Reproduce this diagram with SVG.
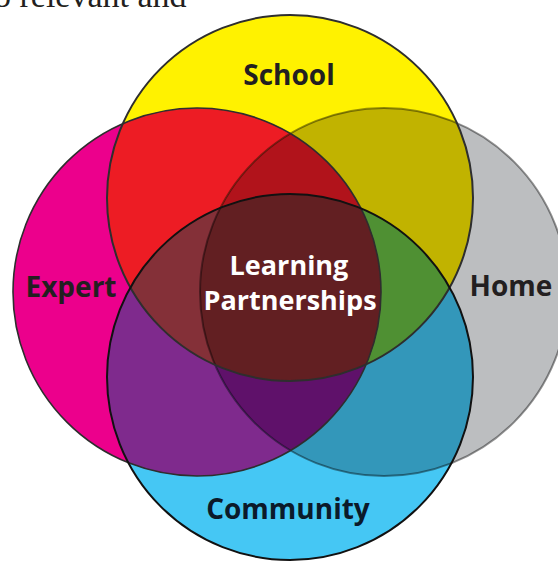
<svg xmlns="http://www.w3.org/2000/svg" width="558" height="562" viewBox="0 0 558 562">
  <style>
    .lbl { font-family: "Open Sans", "Liberation Sans", sans-serif; font-weight: bold; font-size: 28px; text-anchor: middle; }
    .dark { fill: #231F20; }
    .white { fill: #FFFFFF; font-size: 27px; }
    .page { font-family: "Liberation Serif", serif; font-size: 34px; fill: #231F20; }
  </style>
  <defs>
    <circle id="cirS" cx="290" cy="198" r="183"/>
    <circle id="cirE" cx="197" cy="292" r="184"/>
    <circle id="cirH" cx="384" cy="292" r="184"/>
    <circle id="cirC" cx="290" cy="377" r="183"/>
    <clipPath id="clipS"><use href="#cirS"/></clipPath>
    <clipPath id="clipE"><use href="#cirE"/></clipPath>
    <clipPath id="clipH"><use href="#cirH"/></clipPath>
    <clipPath id="clipC"><use href="#cirC"/></clipPath>
  </defs>

  <rect width="558" height="562" fill="#FFFFFF"/>
  <text class="page" x="-6" y="7">o relevant and</text>

  <!-- single-circle fills -->
  <g id="home-fill"><use href="#cirH" fill="#BCBEC0"/></g>
  <g id="expert-fill"><use href="#cirE" fill="#EC008C"/></g>
  <g id="community-fill"><use href="#cirC" fill="#45C7F4"/></g>
  <g id="school-fill"><use href="#cirS" fill="#FFF200"/></g>

  <!-- pairwise overlaps -->
  <g clip-path="url(#clipS)"><use href="#cirE" fill="#ED1C24"/></g>
  <g clip-path="url(#clipS)"><use href="#cirH" fill="#C1B300"/></g>
  <g clip-path="url(#clipC)"><use href="#cirE" fill="#7F2A8D"/></g>
  <g clip-path="url(#clipC)"><use href="#cirH" fill="#3397BA"/></g>

  <!-- triple overlaps -->
  <g clip-path="url(#clipS)"><g clip-path="url(#clipE)"><use href="#cirH" fill="#B1131B"/></g></g>
  <g clip-path="url(#clipS)"><g clip-path="url(#clipH)"><use href="#cirC" fill="#4F9033"/></g></g>
  <g clip-path="url(#clipC)"><g clip-path="url(#clipE)"><use href="#cirH" fill="#5F116A"/></g></g>
  <g clip-path="url(#clipS)"><g clip-path="url(#clipE)"><use href="#cirC" fill="#843038"/></g></g>

  <!-- all four -->
  <g id="center-fill" clip-path="url(#clipS)"><g clip-path="url(#clipE)"><g clip-path="url(#clipH)"><use href="#cirC" fill="#621F22"/></g></g></g>

  <!-- outlines -->
  <g id="outlines" fill="none">
    <use href="#cirH" stroke="#000000" stroke-opacity="0.42" stroke-width="2"/>
    <use href="#cirE" stroke="#2E2E2E" stroke-width="1.6"/>
    <use href="#cirS" stroke="#2E2E2E" stroke-width="2"/>
    <use href="#cirC" stroke="#111111" stroke-width="2"/>
  </g>

  <!-- labels -->
  <g id="school"><text class="lbl dark" x="289" y="85">School</text></g>
  <g id="expert"><text class="lbl dark" x="71" y="297">Expert</text></g>
  <g id="home"><text class="lbl dark" x="511" y="296">Home</text></g>
  <g id="community"><text class="lbl" x="288" y="519" fill="#0B1A2A">Community</text></g>
  <g id="learning-partnerships">
    <text class="lbl white" x="289" y="275">Learning</text>
    <text class="lbl white" x="290" y="310">Partnerships</text>
  </g>
</svg>
